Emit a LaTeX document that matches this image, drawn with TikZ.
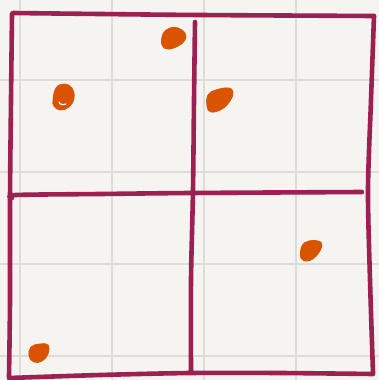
\documentclass[tikz,border=0pt]{standalone}
\begin{document}
\begin{tikzpicture}[x=1pt,y=-1pt]
\definecolor{paper}{HTML}{F5F4F1}
\definecolor{gridc}{HTML}{DDDCD9}
\definecolor{frame}{HTML}{9C2052}
\definecolor{blob}{HTML}{DA5300}
\tikzset{
  gridline/.style={draw=gridc,line width=1.8pt},
  stroke/.style={draw=frame,line width=4.6pt,line cap=round,line join=round},
  dot/.style={fill=blob,draw=blob,line width=0.8pt}
}
\useasboundingbox (0,0) rectangle (379,380);
\fill[paper] (0,0) rectangle (379,380);
% grid
\foreach \gx in {20,112,204,296} \draw[gridline] (\gx,0) -- (\gx,380);
\foreach \gy in {80,172,264,356} \draw[gridline] (0,\gy) -- (379,\gy);
% frame
\draw[stroke] plot[smooth,tension=0.5] coordinates {(12,14) (11,100) (10,200) (10,300) (9,377)};
\draw[stroke] plot[smooth,tension=0.5] coordinates {(13,13) (100,14) (200,15) (374,16)};
\draw[stroke] plot[smooth,tension=0.5] coordinates {(374,16) (371,100) (368,190) (370,280) (373,373)};
\draw[stroke] plot[smooth,tension=0.5] coordinates {(9,378) (100,375) (190,373) (280,373) (373,374)};
\draw[stroke] plot[smooth,tension=0.5] coordinates {(195,22) (194,100) (193,190) (191,280) (191,372)};
\draw[stroke] plot[smooth,tension=0.5] coordinates {(12,198) (16,195) (100,194) (190,193) (362,192)};
% blobs
\draw[dot] plot[smooth cycle,tension=0.7] coordinates {(162,45) (163,34) (170,28) (178,28) (185,33) (185,40) (178,46) (168,49)};
\draw[dot] plot[smooth cycle,tension=0.7] coordinates {(53,100) (56,88) (64,84) (72,88) (74,98) (69,107) (60,110) (54,106)};
\draw[white,line width=1.2pt,line cap=round] (59,102) .. controls (60,105) and (63,105) .. (66,104);
\draw[dot] plot[smooth cycle,tension=0.7] coordinates {(207,106) (208,95) (216,90) (228,88) (233,92) (230,101) (222,109) (211,112)};
\draw[dot] plot[smooth cycle,tension=0.7] coordinates {(301,258) (302,246) (309,241) (318,241) (322,245) (317,255) (308,261)};
\draw[dot] plot[smooth cycle,tension=0.7] coordinates {(29,356) (31,347) (40,344) (48,345) (48,354) (42,361) (34,362)};
\end{tikzpicture}
\end{document}
